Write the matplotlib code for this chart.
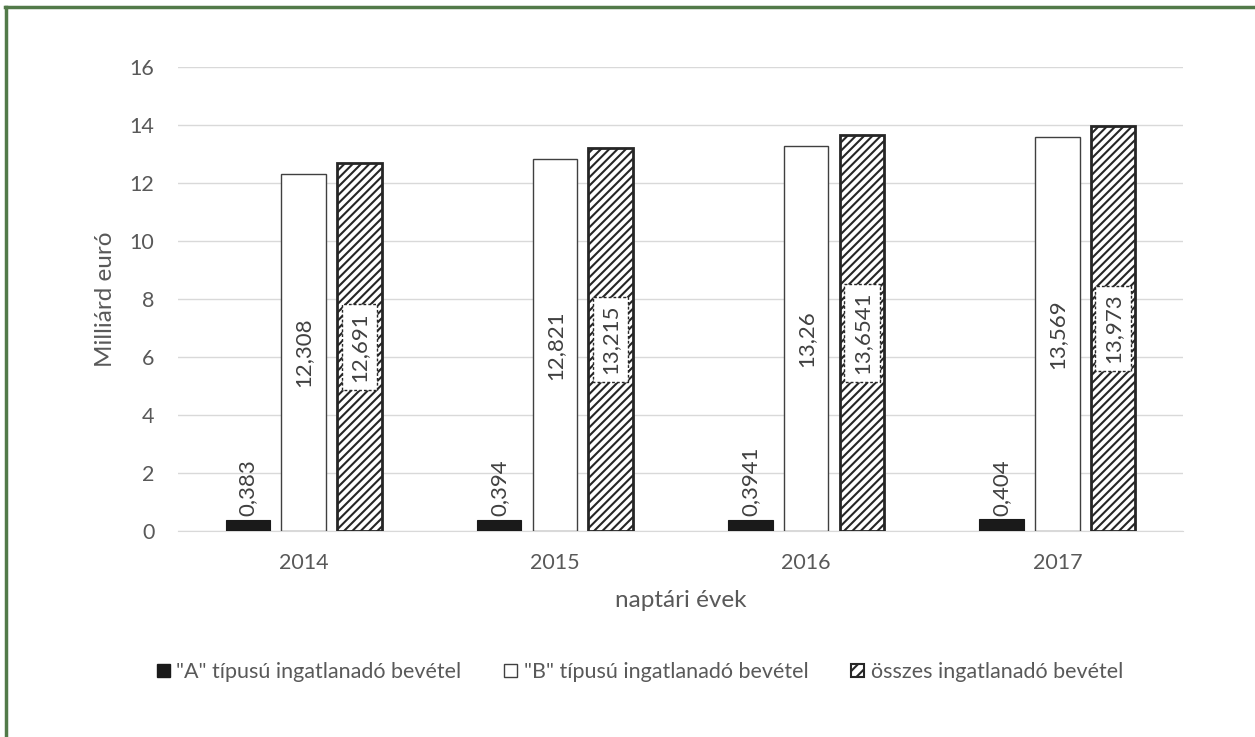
import matplotlib.pyplot as plt
from matplotlib.lines import Line2D
import numpy as np

plt.rcParams['font.family'] = ['Lato', 'DejaVu Sans']
plt.rcParams['hatch.linewidth'] = 1.5

# data
years = ["2014", "2015", "2016", "2017"]
a_vals = [0.383, 0.394, 0.3941, 0.404]
b_vals = [12.308, 12.821, 13.26, 13.569]
total_vals = [12.691, 13.215, 13.6541, 13.973]
a_labels = ["0,383", "0,394", "0,3941", "0,404"]
b_labels = ["12,308", "12,821", "13,26", "13,569"]
total_labels = ["12,691", "13,215", "13,6541", "13,973"]
legend_names = ['"A" típusú ingatlanadó bevétel',
                '"B" típusú ingatlanadó bevétel',
                'összes ingatlanadó bevétel']

TXT = "#595959"
DARK = "#262626"

fig = plt.figure(figsize=(12.55, 7.37), dpi=100)
W, H = 1255, 737
ax = fig.add_axes([178 / W, 206 / H, 1005 / W, 464 / H])

x = np.arange(len(years))
bw = 0.177
off = 0.222

bars_a = ax.bar(x - off, a_vals, bw, color="#1a1a1a", edgecolor="#1a1a1a", lw=0.8, zorder=3)
bars_b = ax.bar(x, b_vals, bw, color="white", edgecolor="#404040", lw=1.0, zorder=3)
bars_c = ax.bar(x + off, total_vals, bw, color="white", edgecolor=DARK, lw=2.0,
                hatch="////", zorder=3)

# data labels
for xi, v, lab in zip(x - off, a_vals, a_labels):
    ax.text(xi, v + 0.12, lab, rotation=90, ha="center", va="bottom",
            fontsize=16, color="#404040", zorder=5)
for xi, v, lab in zip(x, b_vals, b_labels):
    ax.text(xi, v / 2, lab, rotation=90, ha="center", va="center",
            fontsize=16, color="#404040", zorder=5)
for xi, v, lab in zip(x + off, total_vals, total_labels):
    ax.text(xi, v / 2, lab, rotation=90, ha="center", va="center",
            fontsize=16, color="#404040", zorder=5,
            bbox=dict(boxstyle="square,pad=0.35", fc="white", ec=DARK, lw=1.0, ls=(0, (2, 1.5))))

ax.set_ylim(0, 16)
ax.set_xlim(-0.5, len(years) - 0.5)
ax.set_yticks(range(0, 17, 2))
ax.set_xticks(x)
ax.set_xticklabels(years)
ax.yaxis.grid(True, color="#d9d9d9", lw=1.0, zorder=0)
ax.set_axisbelow(True)
for s in ["top", "right", "left"]:
    ax.spines[s].set_visible(False)
ax.spines["bottom"].set_color("#d9d9d9")
ax.tick_params(axis="both", length=0, labelsize=15.5, labelcolor=TXT)
ax.tick_params(axis="x", pad=16)
ax.tick_params(axis="y", pad=17)

ax.set_xlabel("naptári évek", fontsize=17.5, color=TXT, labelpad=12)
ax.set_ylabel("Milliárd euró", fontsize=17.5, color=TXT, labelpad=10)

handles = [
    plt.Rectangle((0, 0), 1, 1, fc="#1a1a1a", ec="#1a1a1a"),
    plt.Rectangle((0, 0), 1, 1, fc="white", ec="#404040"),
    plt.Rectangle((0, 0), 1, 1, fc="white", ec=DARK, hatch="///", lw=1.5),
]
fig.legend(handles, legend_names, loc="center", bbox_to_anchor=(640 / W, 1 - 672 / H),
           ncol=3, frameon=False, fontsize=15.5, labelcolor=TXT,
           handlelength=0.6, handleheight=0.6, handletextpad=0.3, columnspacing=2.0)

# green frame (top and left only)
fig.add_artist(Line2D([5 / W, 1], [1 - 7 / H, 1 - 7 / H], color="#527a49", lw=2.5,
                      transform=fig.transFigure))
fig.add_artist(Line2D([6 / W, 6 / W], [0, 1 - 7 / H], color="#527a49", lw=2.5,
                      transform=fig.transFigure))

fig.savefig("out.png", dpi=100)
